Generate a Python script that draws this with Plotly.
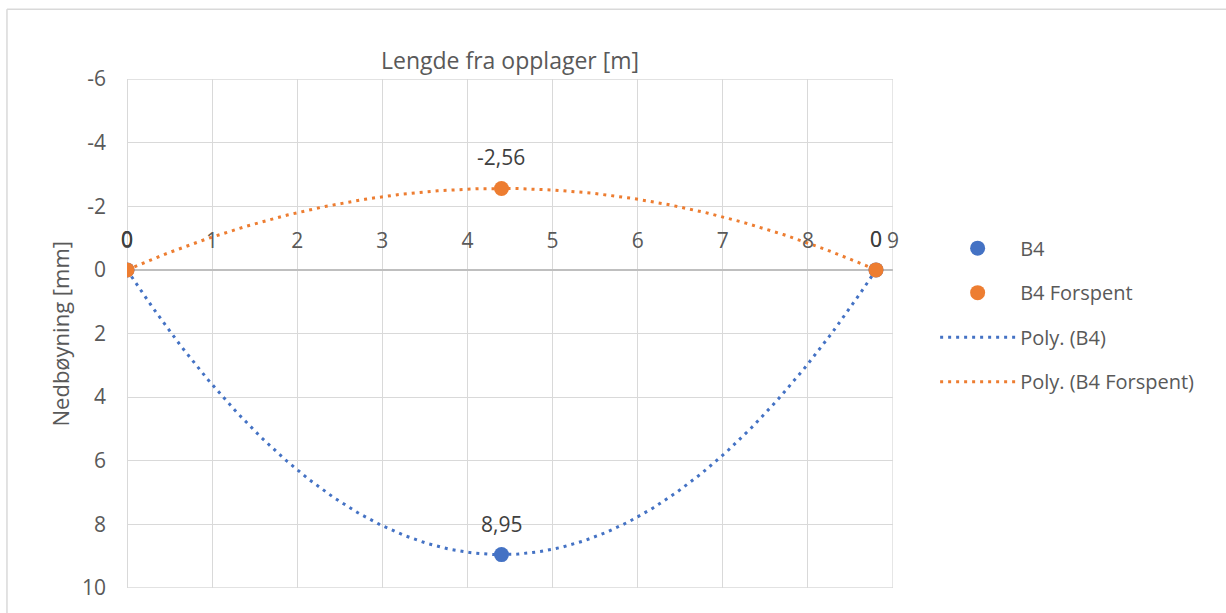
import numpy as np
import plotly.graph_objects as go

# Measured deflection of beam B4, with and without prestressing
x_pos = [0.0, 4.4, 8.8]            # distance from support [m]
b4 = [0.0, 8.95, 0.0]              # deflection [mm]
b4_forspent = [0.0, -2.56, 0.0]    # deflection, prestressed [mm]

x_ticks = [0, 1, 2, 3, 4, 5, 6, 7, 8, 9]
y_ticks = [-6, -4, -2, 0, 2, 4, 6, 8, 10]
y_tick_text = ["-6", "-4", "-2", "0", "2", "4", "6", "8", "10"]

BLUE = "#4472C4"
ORANGE = "#ED7D31"
TEXT = "#595959"
GRID = "#D9D9D9"
FONT = "Open Sans"

fig = go.Figure()

# Second-order polynomial trendlines through each series
xs = np.linspace(min(x_pos), max(x_pos), 300)
for vals, name, color, rank in [
    (b4, "Poly. (B4)", BLUE, 3),
    (b4_forspent, "Poly. (B4 Forspent)", ORANGE, 4),
]:
    coef = np.polyfit(x_pos, vals, 2)
    fig.add_trace(go.Scatter(
        x=xs, y=np.polyval(coef, xs), mode="lines", name=name,
        line=dict(color=color, width=3, dash="3px,5px"),
        legendrank=rank, legendgroup=name, hoverinfo="skip",
    ))

for vals, name, color, rank in [
    (b4, "B4", BLUE, 1),
    (b4_forspent, "B4 Forspent", ORANGE, 2),
]:
    fig.add_trace(go.Scatter(
        x=x_pos, y=vals, mode="markers", name=name,
        marker=dict(color=color, size=15),
        legendrank=rank, legendgroup=name,
    ))

# Value labels above each point
annotations = []
for vals in (b4, b4_forspent):
    for xv, yv in zip(x_pos, vals):
        label = f"{yv:g}".replace(".", ",")
        annotations.append(dict(
            x=xv, y=yv, xref="x", yref="y", text=label, showarrow=False,
            yshift=31, xanchor="center", yanchor="middle",
            font=dict(family=FONT, size=21, color="#404040"),
        ))

annotations.append(dict(
    x=0.5, y=1.037, xref="paper", yref="paper", text="Lengde fra opplager [m]",
    showarrow=False, xanchor="center", yanchor="middle",
    font=dict(family=FONT, size=23, color=TEXT),
))
annotations.append(dict(
    x=-0.0875, y=0.5, xref="paper", yref="paper", text="Nedbøyning [mm]",
    showarrow=False, textangle=-90, xanchor="center", yanchor="middle",
    font=dict(family=FONT, size=22, color=TEXT),
))

# Plot-area frame lines at the axis range edges
edge = dict(color=GRID, width=1.3)
shapes = [
    dict(type="line", xref="x", yref="y", x0=0, x1=9, y0=-6, y1=-6,
         line=edge, layer="below"),
    dict(type="line", xref="x", yref="y", x0=0, x1=9, y0=10, y1=10,
         line=edge, layer="below"),
    dict(type="line", xref="x", yref="y", x0=0, x1=0, y0=-6, y1=10,
         line=edge, layer="below"),
    dict(type="line", xref="x", yref="y", x0=9, x1=9, y0=-6, y1=10,
         line=edge, layer="below"),
    # outer chart frame
    dict(type="line", xref="paper", yref="paper",
         x0=-0.1567, x1=-0.1567, y0=-0.08, y1=1.137,
         line=dict(color=GRID, width=1.5)),
    dict(type="line", xref="paper", yref="paper",
         x0=-0.1567, x1=1.45, y0=1.137, y1=1.137,
         line=dict(color=GRID, width=1.5)),
]

fig.update_layout(
    width=1226, height=613,
    margin=dict(l=127, r=333, t=79, b=23),
    paper_bgcolor="white", plot_bgcolor="white",
    font=dict(family=FONT, size=21, color=TEXT),
    showlegend=True,
    legend=dict(
        x=1.055, y=0.706, xanchor="left", yanchor="top",
        traceorder="grouped", tracegroupgap=15.5, itemwidth=75,
        font=dict(family=FONT, size=20, color=TEXT),
        bgcolor="rgba(0,0,0,0)",
    ),
    annotations=annotations,
    shapes=shapes,
)

fig.update_xaxes(
    range=[0, 9], tickvals=x_ticks, side="top",
    anchor="free", position=0.625,
    showgrid=True, gridcolor=GRID, gridwidth=1.3,
    zeroline=True, zerolinecolor=GRID, zerolinewidth=1.3,
    showline=False, ticks="", ticklabelstandoff=18,
    tickfont=dict(family=FONT, size=21, color=TEXT),
)
fig.update_yaxes(
    range=[10, -6], tickvals=y_ticks, ticktext=y_tick_text,
    showgrid=True, gridcolor=GRID, gridwidth=1.3,
    zeroline=True, zerolinecolor="#BFBFBF", zerolinewidth=1.6,
    showline=False, ticks="", ticklabelstandoff=20,
    tickfont=dict(family=FONT, size=21, color=TEXT),
)

fig.write_html("out.html")
